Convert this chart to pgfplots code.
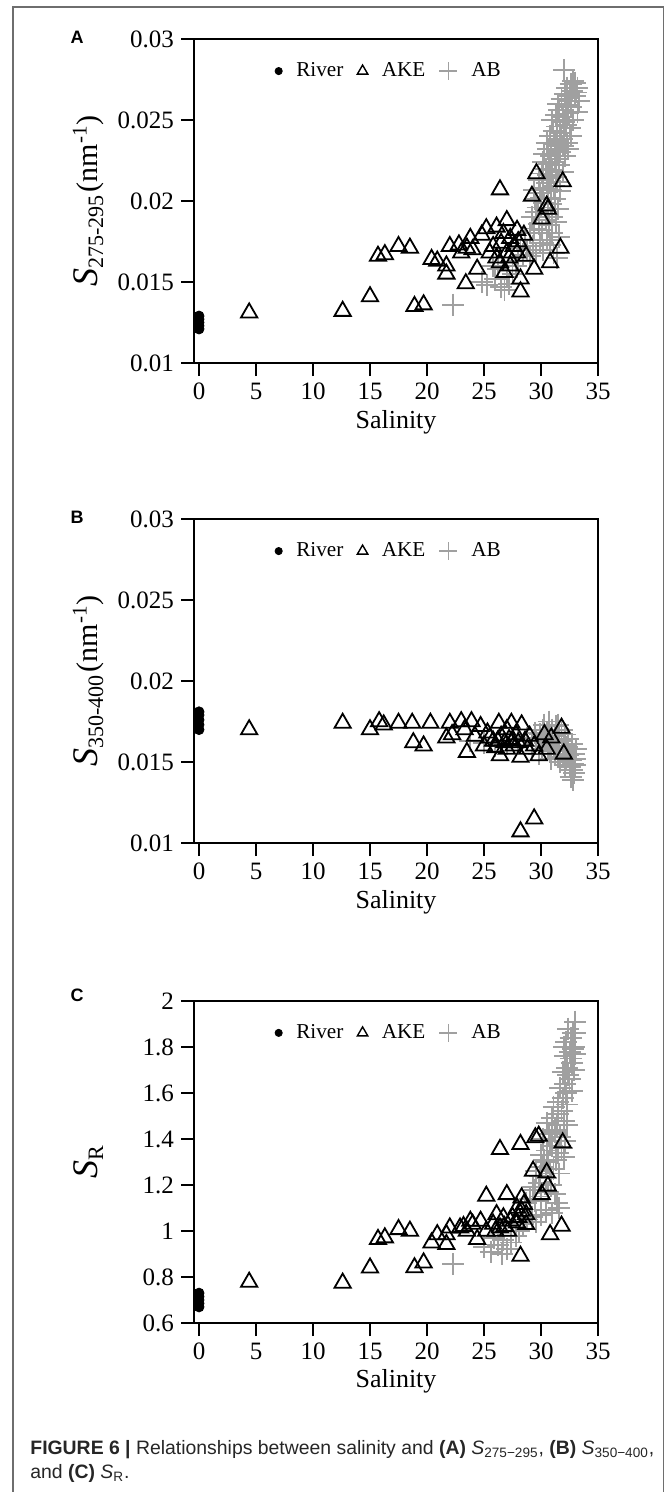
\documentclass[border=0pt]{standalone}
\usepackage{fontspec}
\setmainfont{Liberation Serif}
\setsansfont{Liberation Sans}
\usepackage{pgfplots}
\pgfplotsset{compat=1.18}
\definecolor{abgray}{HTML}{A0A0A0}
\definecolor{framegray}{HTML}{6E6E6E}
\pgfplotsset{
 myax/.style={
  scale only axis, width=202pt,
  xmin=-0.44, xmax=35,
  xtick={0,5,...,35},
  axis line style={line width=0.8pt},
  every tick/.style={black, line width=0.8pt},
  tick align=outside,
  major tick length=6.5pt,
  xtick pos=bottom, ytick pos=left,
  tick label style={font=\fontsize{12.5}{14}\selectfont},
  /pgf/number format/assume math mode=true,
  scaled y ticks=false,
  xlabel={Salinity},
  every axis x label/.style={at={(axis description cs:0.5,-0.182)}, anchor=center, font=\fontsize{13}{15}\selectfont},
  every axis y label/.style={at={(axis description cs:-0.262,0.5)}, rotate=90, anchor=center},
  legend style={draw=none, fill=none, at={(axis description cs:0.485,0.901)}, anchor=center, legend columns=3,
    font=\fontsize{10.6}{12}\selectfont,
    /tikz/every odd column/.append style={column sep=5pt},
    /tikz/every even column/.append style={column sep=5pt}, inner sep=0pt},
  legend image code/.code={\draw[#1] plot coordinates {(0pt,0pt)};},
 },
 abst/.style={only marks, mark=+, mark size=5.5pt, abgray, line width=0.95pt, forget plot},
 akest/.style={only marks, mark=triangle, mark size=4.7pt, black, line width=0.9pt, forget plot},
 rivst/.style={only marks, mark=*, mark size=2.5pt, black, forget plot},
}
\newcommand{\legs}{%
  \addlegendimage{only marks, mark=*, mark size=1.8pt, black}\addlegendentry{River}
  \addlegendimage{only marks, mark=triangle, mark size=3pt, black, line width=0.7pt}\addlegendentry{AKE}
  \addlegendimage{only marks, mark=+, mark size=4.5pt, abgray, line width=0.7pt}\addlegendentry{AB}
}
\begin{document}
\begin{tikzpicture}
\useasboundingbox (0,0) rectangle (336pt,-746pt);
\draw[framegray, line width=0.7pt] (6.5pt,-746pt) -- (6.5pt,-3.5pt) -- (331.7pt,-3.5pt) -- (331.7pt,-746pt);
\node[font=\sffamily\bfseries\fontsize{9}{10}\selectfont] at (38.5pt,-18.5pt) {A};
\node[font=\sffamily\bfseries\fontsize{9}{10}\selectfont] at (38.5pt,-258.5pt) {B};
\node[font=\sffamily\bfseries\fontsize{9}{10}\selectfont] at (38.5pt,-497.5pt) {C};

% ---------------- Panel A ----------------
\begin{axis}[myax, at={(97pt,-181.5pt)}, anchor=south west, height=162pt,
  ymin=0.01, ymax=0.03, ytick={0.01,0.015,0.02,0.025,0.03}, yticklabels={0.01,0.015,0.02,0.025,0.03},
  ylabel={{\fontsize{18}{18}\selectfont\itshape S}{\fontsize{11}{11}\selectfont\raisebox{-0.6ex}{275-295}}\,{\fontsize{15}{15}\selectfont(nm\textsuperscript{-1})}}]
\legs
\addplot[abst] coordinates {
(22.3,0.0136) (24.8,0.0150) (25.3,0.0148) (26.0,0.0152) (26.5,0.0147) (26.8,0.0145) (27.2,0.0149) (27.0,0.0153)
(27.5,0.0155) (26.2,0.0158) (25.8,0.0160) (27.8,0.0160) (28.0,0.0163) (28.4,0.0167) (28.2,0.0171) (28.8,0.0170)
(29.0,0.0166) (29.3,0.0172) (29.6,0.0168) (29.9,0.0174) (30.2,0.0170) (30.5,0.0176) (30.8,0.0173) (31.1,0.0168)
(31.4,0.0165) (28.6,0.0176) (29.0,0.0180) (29.4,0.0183) (29.8,0.0186) (30.1,0.0182) (30.4,0.0188) (30.7,0.0185)
(31.0,0.0190) (31.3,0.0187) (29.2,0.0190) (29.6,0.0193) (30.0,0.0196) (30.3,0.0199) (30.6,0.0202) (30.9,0.0198)
(31.2,0.0201) (31.5,0.0195) (29.5,0.0201) (29.9,0.0205) (30.2,0.0208) (30.5,0.0211) (30.8,0.0214) (31.1,0.0209)
(31.4,0.0212) (31.7,0.0206) (29.8,0.0213) (30.1,0.0217) (30.4,0.0220) (30.7,0.0223) (31.0,0.0219) (31.3,0.0226)
(31.6,0.0222) (31.9,0.0218) (30.3,0.0229) (30.6,0.0232) (30.9,0.0228) (31.2,0.0235) (31.5,0.0231) (31.8,0.0238)
(32.1,0.0228) (30.8,0.0240) (31.1,0.0243) (31.4,0.0246) (31.7,0.0242) (32.0,0.0249) (32.3,0.0236) (31.0,0.0250)
(31.3,0.0253) (31.6,0.0256) (31.9,0.0252) (32.2,0.0259) (32.5,0.0245) (31.5,0.0260) (31.8,0.0263) (32.1,0.0266)
(32.4,0.0262) (32.7,0.0268) (33.0,0.0265) (32.3,0.0270) (32.6,0.0272) (32.9,0.0270) (33.1,0.0267) (32.0,0.0281)
(32.8,0.0274) (31.4,0.0237) (31.7,0.0230) (32.0,0.0240) (32.4,0.0254) (32.6,0.0258) (31.2,0.0224) (30.6,0.0216)
(30.0,0.0202) (29.7,0.0196) (30.9,0.0207) (31.3,0.0215) (31.9,0.0234) (32.2,0.0247) (33.0,0.0273) (33.2,0.0270)
(32.5,0.0265) (31.0,0.0180) (30.6,0.0192) (31.6,0.0178)
(33.3,0.0262) (33.2,0.0255) (32.8,0.0250) (32.6,0.0240) (32.4,0.0232) (30.2,0.0224) (30.5,0.0236) (29.4,0.0207)
};
\addplot[akest] coordinates {
(4.4,0.0131) (12.6,0.0132) (15.0,0.0141) (15.7,0.0166) (16.3,0.0167) (17.5,0.0172) (18.5,0.0171) (18.9,0.0135)
(19.7,0.0136) (20.4,0.0164) (20.9,0.0163) (21.7,0.0160) (21.7,0.0155) (22.0,0.0172) (22.8,0.0173) (23.4,0.0149)
(23.5,0.0171) (23.8,0.0177) (24.4,0.0158) (24.8,0.0179) (25.2,0.0183) (25.5,0.0168) (26.1,0.0184) (26.1,0.0165)
(26.4,0.0207) (26.4,0.0162) (26.5,0.0174) (26.8,0.0156) (27.0,0.0188) (27.0,0.0168) (27.3,0.0177) (27.3,0.0160)
(27.9,0.0182) (27.9,0.0168) (28.2,0.0152) (28.2,0.0144) (28.5,0.0179) (28.7,0.0166) (29.2,0.0203) (29.4,0.0158)
(29.6,0.0217) (30.06,0.0189) (30.5,0.0197) (30.6,0.0195) (30.8,0.0162) (31.7,0.0171) (31.9,0.0212)
(23.0,0.0168) (24.0,0.0170) (25.8,0.0172) (26.7,0.0180) (27.6,0.0172) (28.0,0.0175) (27.2,0.0165)
};
\addplot[rivst] coordinates {(0,0.0121) (0,0.0123) (0,0.0125) (0,0.0127) (0,0.0129)};
\end{axis}

% ---------------- Panel B ----------------
\begin{axis}[myax, at={(97pt,-421.5pt)}, anchor=south west, height=162pt,
  ymin=0.01, ymax=0.03, ytick={0.01,0.015,0.02,0.025,0.03}, yticklabels={0.01,0.015,0.02,0.025,0.03},
  ylabel={{\fontsize{18}{18}\selectfont\itshape S}{\fontsize{11}{11}\selectfont\raisebox{-0.6ex}{350-400}}\,{\fontsize{15}{15}\selectfont(nm\textsuperscript{-1})}}]
\legs
\addplot[abst] coordinates {
(23.8,0.0163) (25.0,0.0162) (26.0,0.0160) (27.0,0.0161) (28.0,0.0163) (28.8,0.0165) (29.2,0.0160) (29.6,0.0163)
(29.9,0.0167) (30.2,0.0170) (30.4,0.0165) (30.6,0.0160) (30.8,0.0157) (30.3,0.0173) (30.7,0.0175) (31.0,0.0170)
(31.2,0.0166) (31.4,0.0162) (31.6,0.0158) (31.0,0.0163) (30.1,0.0158) (29.8,0.0155) (31.3,0.0172) (31.6,0.0168)
(31.8,0.0163) (32.0,0.0160) (32.2,0.0157) (32.4,0.0154) (32.6,0.0151) (32.8,0.0149) (33.0,0.0152) (32.5,0.0147)
(32.7,0.0145) (32.9,0.0143) (32.8,0.0139) (32.6,0.0141) (32.3,0.0159) (31.9,0.0155) (31.5,0.0153) (31.2,0.0155)
(30.9,0.0152) (31.7,0.0150) (32.1,0.0148) (32.9,0.0155) (33.1,0.0158) (32.7,0.0161) (32.4,0.0164) (32.1,0.0167)
(31.8,0.0170) (31.5,0.0173) (30.5,0.0168) (29.5,0.0168) (30.0,0.0163) (31.1,0.0159) (32.2,0.0152) (33.0,0.0148)
};
\addplot[akest] coordinates {
(4.4,0.0170) (12.6,0.0174) (15.0,0.0170) (15.8,0.0175) (16.2,0.0173) (17.5,0.0174) (18.7,0.0174) (18.8,0.0162)
(19.7,0.0160) (20.3,0.0174) (21.7,0.0165) (22.0,0.0174) (22.2,0.0167) (23.0,0.0175) (23.3,0.0170) (23.5,0.0156)
(23.9,0.0175) (24.2,0.0166) (24.7,0.0172) (25.3,0.0168) (25.8,0.0163) (26.3,0.0174) (26.5,0.0166) (26.8,0.0162)
(27.0,0.0170) (27.2,0.0164) (27.4,0.0174) (27.6,0.0160) (27.8,0.0167) (26.4,0.0154) (28.3,0.0173) (28.2,0.0153)
(28.6,0.0163) (29.0,0.0166) (29.4,0.0160) (29.8,0.0154) (30.3,0.0167) (30.5,0.0158) (30.9,0.0165) (31.8,0.0171)
(32.0,0.0155) (28.2,0.0107) (29.4,0.0115)
(25.0,0.0160) (26.0,0.0159) (27.0,0.0158) (27.5,0.0163) (28.0,0.0162) (28.8,0.0158) (26.2,0.0163) (25.5,0.0165)
};
\addplot[rivst] coordinates {(0,0.0170) (0,0.0173) (0,0.0176) (0,0.0179) (0,0.0181)};
\end{axis}

% ---------------- Panel C ----------------
\begin{axis}[myax, at={(97pt,-661.5pt)}, anchor=south west, height=161pt,
  ymin=0.6, ymax=2, ytick={0.6,0.8,1,1.2,1.4,1.6,1.8,2}, yticklabels={0.6,0.8,1,1.2,1.4,1.6,1.8,2},
  ylabel={{\fontsize{18}{18}\selectfont\itshape S}{\fontsize{11}{11}\selectfont\raisebox{-0.6ex}{R}}}]
\legs
\addplot[abst] coordinates {
(22.3,0.855) (25.0,0.93) (25.6,0.91) (26.2,0.94) (26.6,0.90) (27.0,0.92) (25.9,0.97) (26.7,0.96) (27.4,0.95)
(27.8,0.98) (28.1,1.00) (28.4,1.03) (28.8,1.05) (29.2,1.06) (29.6,1.04) (30.0,1.07) (30.4,1.09) (31.0,1.08)
(31.4,1.12) (31.6,1.10) (28.7,1.12) (29.0,1.14) (29.5,1.13) (30.0,1.15) (30.6,1.17) (31.2,1.16) (29.3,1.19)
(29.8,1.21) (30.4,1.23) (30.9,1.20) (29.6,1.26) (30.1,1.28) (30.6,1.30) (31.1,1.27) (31.6,1.25) (30.0,1.33)
(30.5,1.35) (31.0,1.37) (31.5,1.34) (32.0,1.32) (30.2,1.40) (30.7,1.42) (31.2,1.44) (31.7,1.41) (32.1,1.39)
(30.5,1.47) (31.0,1.49) (31.5,1.51) (32.0,1.48) (32.3,1.46) (31.1,1.54) (31.5,1.56) (31.9,1.58) (32.3,1.55)
(31.7,1.62) (32.1,1.64) (32.5,1.66) (32.7,1.61) (31.9,1.69) (32.3,1.71) (32.7,1.73) (32.9,1.70) (32.1,1.76)
(32.5,1.78) (32.9,1.80) (33.0,1.77) (32.2,1.82) (32.6,1.84) (33.0,1.86) (32.4,1.88) (32.8,1.86) (33.0,1.91)
(32.0,1.80) (32.6,1.75) (31.4,1.46) (30.8,1.39) (30.3,1.31) (29.9,1.24) (29.5,1.18) (30.8,1.25) (31.3,1.31)
(31.8,1.36) (32.2,1.60) (31.8,1.52) (31.2,1.43) (32.4,1.68) (32.8,1.79)
};
\addplot[akest] coordinates {
(4.4,0.778) (12.6,0.774) (15.0,0.84) (15.7,0.964) (16.3,0.971) (17.5,1.007) (18.5,1.0) (18.9,0.841) (19.7,0.862)
(20.4,0.949) (20.9,0.985) (21.7,0.985) (21.7,0.942) (22.0,1.014) (22.9,1.014) (23.5,1.0) (23.8,1.043) (24.4,0.964)
(24.7,1.043) (25.2,1.0) (25.2,1.152) (26.1,1.072) (26.4,1.014) (26.4,1.355) (26.7,1.058) (27.0,1.159) (27.1,1.0)
(27.3,1.043) (27.9,1.036) (27.9,1.10) (28.2,1.377) (28.2,0.891) (28.3,1.145) (28.3,1.087) (28.5,1.116) (28.7,1.072)
(28.7,1.029) (29.3,1.261) (29.5,1.406) (29.8,1.413) (30.06,1.159) (30.5,1.254) (30.6,1.196) (30.8,0.985) (31.8,1.022)
(31.9,1.384) (23.2,1.02) (24.0,1.03) (25.8,1.03) (26.0,1.0) (26.8,1.02) (27.5,1.06) (28.0,1.06)
};
\addplot[rivst] coordinates {(0,0.670) (0,0.685) (0,0.700) (0,0.715) (0,0.730)};
\end{axis}

\node[anchor=base west, font=\sffamily\fontsize{9.7}{11}\selectfont, text=black!85, inner sep=0pt] at (15pt,-727pt)
 {\textbf{FIGURE 6 |} Relationships between salinity and \textbf{(A)} \textit{S}\textsubscript{275−295}, \textbf{(B)} \textit{S}\textsubscript{350−400},};
\node[anchor=base west, font=\sffamily\fontsize{9.7}{11}\selectfont, text=black!85, inner sep=0pt] at (15pt,-739pt)
 {and \textbf{(C)} \textit{S}\textsubscript{R}.};
\end{tikzpicture}
\end{document}
